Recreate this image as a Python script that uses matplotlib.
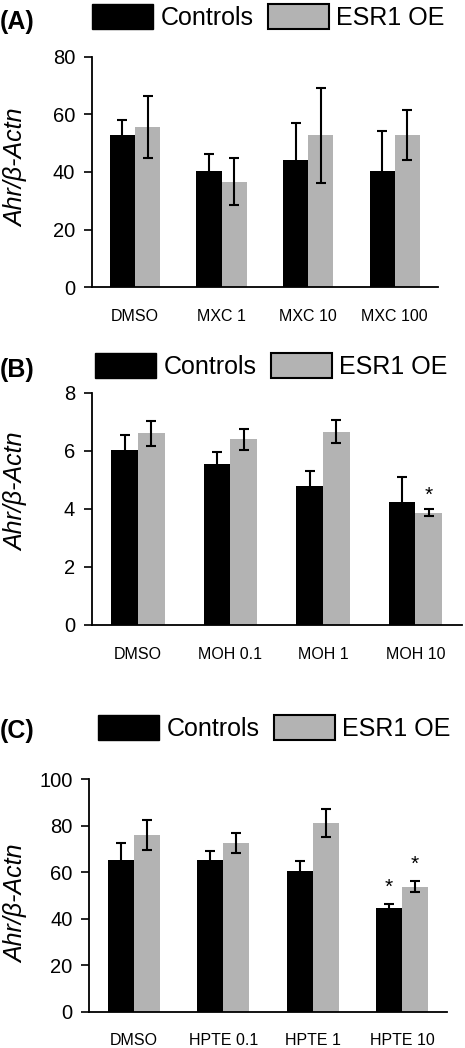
import numpy as np
import matplotlib
matplotlib.use("Agg")
import matplotlib.pyplot as plt
from matplotlib.patches import Patch

plt.rcParams['font.family'] = ['Liberation Sans', 'DejaVu Sans']

# panel A - MXC
labels_a = ['DMSO', 'MXC 1', 'MXC 10', 'MXC 100']
ctrl_a = [52.8, 40.3, 44.2, 40.3]
ctrl_a_err = [5.2, 5.8, 12.7, 13.8]
esr_a = [55.5, 36.6, 52.7, 52.7]
esr_a_err = [10.7, 8.2, 16.5, 8.7]

# panel B - MOH
labels_b = ['DMSO', 'MOH 0.1', 'MOH 1', 'MOH 10']
ctrl_b = [6.03, 5.55, 4.80, 4.25]
ctrl_b_err = [0.52, 0.40, 0.52, 0.86]
esr_b = [6.60, 6.39, 6.66, 3.87]
esr_b_err = [0.43, 0.36, 0.39, 0.13]

# panel C - HPTE
labels_c = ['DMSO', 'HPTE 0.1', 'HPTE 1', 'HPTE 10']
ctrl_c = [65.3, 65.3, 60.5, 44.5]
ctrl_c_err = [7.1, 3.7, 4.5, 1.8]
esr_c = [75.9, 72.6, 81.3, 53.8]
esr_c_err = [6.5, 4.5, 6.0, 2.4]

# significance marks (index of group)
star_b_esr = [3]
star_c_ctrl = [3]
star_c_esr = [3]

W, H = 465, 1048
GRAY = '#b3b3b3'

fig = plt.figure(figsize=(W / 100, H / 100), dpi=100)


def px_axes(left, top, right, bottom):
    return fig.add_axes([left / W, 1 - bottom / H, (right - left) / W, (bottom - top) / H])


def draw_panel(ax, labels, ctrl, ctrl_err, esr, esr_err, ymax, step, box,
               label_y, stars_ctrl=(), stars_esr=(), star_off=4):
    left, top, right, bottom = box
    x = np.arange(len(labels))
    w = 0.29
    ekw = dict(ecolor='black', elinewidth=1.5, capsize=3.6, capthick=1.5)
    ax.bar(x - w / 2, ctrl, w, color='black', yerr=ctrl_err, error_kw=ekw, zorder=2)
    ax.bar(x + w / 2, esr, w, color=GRAY, yerr=esr_err, error_kw=ekw, zorder=2)
    for i in stars_ctrl:
        ax.annotate('*', (x[i] - w / 2, ctrl[i] + ctrl_err[i]), xytext=(0, star_off),
                    textcoords='offset points', ha='center', va='bottom', fontsize=15)
    for i in stars_esr:
        ax.annotate('*', (x[i] + w / 2, esr[i] + esr_err[i]), xytext=(0, star_off),
                    textcoords='offset points', ha='center', va='bottom', fontsize=15)
    ax.set_xlim(-0.5, len(labels) - 0.5)
    ax.set_ylim(0, ymax)
    ax.set_yticks(np.arange(0, ymax + step / 2, step))
    ax.set_xticks(x)
    ax.set_xticklabels(labels, fontsize=11.5)
    ax.tick_params(axis='x', length=0, pad=15.5)
    ax.tick_params(axis='y', direction='out', length=6, width=1.2, labelsize=14.5, pad=6)
    for s in ['top', 'right']:
        ax.spines[s].set_visible(False)
    for s in ['left', 'bottom']:
        ax.spines[s].set_linewidth(1.3)
    ax.set_ylabel('Ahr/β-Actn', fontsize=18, fontstyle='italic')
    # label position: glyph edge ~23px from figure left
    ax.yaxis.set_label_coords((28 - left) / (right - left),
                              (bottom - label_y) / (bottom - top))


def draw_legend(x0, y0, label, lx, ly):
    handles = [Patch(facecolor='black', edgecolor='black'),
               Patch(facecolor=GRAY, edgecolor='black', linewidth=1.5)]
    fig.legend(handles, ['Controls', 'ESR1 OE'], loc='center left',
               bbox_to_anchor=(x0 / W, 1 - y0 / H), ncol=2, frameon=False,
               fontsize=18, handlelength=2.45, handleheight=1.15,
               handletextpad=0.3, columnspacing=0.55, borderaxespad=0, borderpad=0)
    fig.text(lx / W, 1 - ly / H, label, fontsize=18, fontweight='bold',
             ha='left', va='center')


box_a = (91.7, 56.7, 438, 287.3)
ax_a = px_axes(*box_a)
draw_panel(ax_a, labels_a, ctrl_a, ctrl_a_err, esr_a, esr_a_err, 80, 20, box_a, 168)
draw_legend(92, 17, '(A)', 0, 22)

box_b = (91.7, 392.7, 461.7, 625)
ax_b = px_axes(*box_b)
draw_panel(ax_b, labels_b, ctrl_b, ctrl_b_err, esr_b, esr_b_err, 8, 2, box_b, 492,
           stars_esr=star_b_esr, star_off=3)
draw_legend(95, 366, '(B)', 0, 370)

box_c = (89.3, 779.3, 446.7, 1011.7)
ax_c = px_axes(*box_c)
draw_panel(ax_c, labels_c, ctrl_c, ctrl_c_err, esr_c, esr_c_err, 100, 20, box_c, 904,
           stars_ctrl=star_c_ctrl, stars_esr=star_c_esr, star_off=5)
draw_legend(98, 728, '(C)', 0, 731)

fig.savefig('out.png', dpi=100)
